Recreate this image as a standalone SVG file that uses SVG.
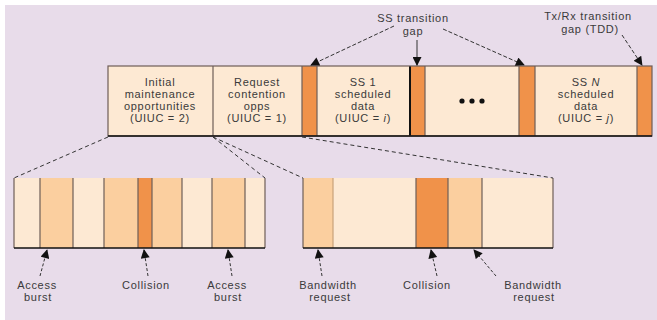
<svg xmlns="http://www.w3.org/2000/svg" width="657" height="320" viewBox="0 0 657 320">
<defs>
<style>
text{font-family:"Liberation Sans",Arial,sans-serif;font-size:11px;letter-spacing:0.7px;fill:#3a3a3a;text-anchor:middle}
.light{fill:#fde9d3}
.med{fill:#fbcf9f}
.dark{fill:#f0924a}
.sep{stroke:#6e5e58;stroke-width:1.2}
.frame{fill:none;stroke:#6e5e58;stroke-width:1.2}
.dash{stroke:#333;stroke-width:1;stroke-dasharray:4,3;fill:none}
.arr{stroke:#333;stroke-width:1;fill:none;marker-end:url(#ah)}
</style>
<marker id="ah" viewBox="0 0 10 10" refX="9" refY="5" markerWidth="10" markerHeight="9" orient="auto-start-reverse" markerUnits="userSpaceOnUse">
<path d="M0,0 L10,5 L0,10 z" fill="#111"/>
</marker>
</defs>
<rect x="0" y="0" width="657" height="320" fill="#ffffff"/>
<rect x="5" y="5" width="652" height="315" fill="#e8dcea"/>

<g id="top-bar">
<rect x="108" y="66" width="544" height="70" class="light"/>
<rect x="302" y="66" width="15" height="70" class="dark"/>
<rect x="411" y="66" width="14" height="70" class="dark"/>
<rect x="519" y="66" width="16" height="70" class="dark"/>
<rect x="637" y="66" width="15" height="70" class="dark"/>
<line x1="213" y1="66" x2="213" y2="136" class="sep"/>
<line x1="302" y1="66" x2="302" y2="136" class="sep"/>
<line x1="317" y1="66" x2="317" y2="136" class="sep"/>
<line x1="410" y1="66" x2="410" y2="136" stroke="#111" stroke-width="2"/>
<line x1="425" y1="66" x2="425" y2="136" class="sep"/>
<line x1="519" y1="66" x2="519" y2="136" class="sep"/>
<line x1="535" y1="66" x2="535" y2="136" class="sep"/>
<line x1="637" y1="66" x2="637" y2="136" class="sep"/>
<rect x="108" y="66" width="544" height="70" class="frame"/>
<line x1="108" y1="136" x2="652" y2="136" stroke="#111" stroke-width="1.4"/>
</g>

<g id="node-initial">
<text x="160" y="86">Initial</text>
<text x="160" y="98">maintenance</text>
<text x="160" y="110">opportunities</text>
<text x="160" y="122">(UIUC = 2)</text>
</g>
<g id="node-request">
<text x="257" y="86">Request</text>
<text x="257" y="98">contention</text>
<text x="257" y="110">opps</text>
<text x="257" y="122">(UIUC = 1)</text>
</g>
<g id="node-ss1">
<text x="363" y="86">SS 1</text>
<text x="363" y="98">scheduled</text>
<text x="363" y="110">data</text>
<text x="363" y="122">(UIUC = <tspan font-style="italic">i</tspan>)</text>
</g>
<g id="node-dots">
<circle cx="462" cy="101" r="2.6" fill="#111"/>
<circle cx="472" cy="101" r="2.6" fill="#111"/>
<circle cx="482" cy="101" r="2.6" fill="#111"/>
</g>
<g id="node-ssn">
<text x="586" y="86">SS <tspan font-style="italic">N</tspan></text>
<text x="586" y="98">scheduled</text>
<text x="586" y="110">data</text>
<text x="586" y="122">(UIUC = <tspan font-style="italic">j</tspan>)</text>
</g>

<g id="label-ss-gap">
<text x="413" y="22">SS transition</text>
<text x="413" y="35">gap</text>
</g>
<g id="label-txrx-gap">
<text x="588" y="20">Tx/Rx transition</text>
<text x="590" y="33">gap (TDD)</text>
</g>

<g id="bar-initial">
<rect x="14" y="178" width="26" height="70" class="light"/>
<rect x="40" y="178" width="33" height="70" class="med"/>
<rect x="73" y="178" width="31" height="70" class="light"/>
<rect x="104" y="178" width="34" height="70" class="med"/>
<rect x="138" y="178" width="14" height="70" class="dark"/>
<rect x="152" y="178" width="30" height="70" class="med"/>
<rect x="182" y="178" width="30" height="70" class="light"/>
<rect x="212" y="178" width="33" height="70" class="med"/>
<rect x="245" y="178" width="20" height="70" class="light"/>
<line x1="14" y1="178" x2="14" y2="248" class="sep"/>
<line x1="40" y1="178" x2="40" y2="248" class="sep"/>
<line x1="73" y1="178" x2="73" y2="248" class="sep"/>
<line x1="104" y1="178" x2="104" y2="248" class="sep"/>
<line x1="138" y1="178" x2="138" y2="248" class="sep"/>
<line x1="152" y1="178" x2="152" y2="248" class="sep"/>
<line x1="182" y1="178" x2="182" y2="248" class="sep"/>
<line x1="212" y1="178" x2="212" y2="248" class="sep"/>
<line x1="245" y1="178" x2="245" y2="248" class="sep"/>
<line x1="265" y1="178" x2="265" y2="248" class="sep"/>
<line x1="14" y1="248" x2="265" y2="248" stroke="#111" stroke-width="1.4"/>
</g>

<g id="bar-request">
<rect x="303" y="178" width="30" height="70" class="med"/>
<rect x="333" y="178" width="83" height="70" class="light"/>
<rect x="416" y="178" width="32" height="70" class="dark"/>
<rect x="448" y="178" width="34" height="70" class="med"/>
<rect x="482" y="178" width="71" height="70" class="light"/>
<line x1="303" y1="178" x2="303" y2="248" class="sep"/>
<line x1="333" y1="178" x2="333" y2="248" stroke="#c9a27a" stroke-width="1.2"/>
<line x1="416" y1="178" x2="416" y2="248" class="sep"/>
<line x1="448" y1="178" x2="448" y2="248" class="sep"/>
<line x1="482" y1="178" x2="482" y2="248" class="sep"/>
<line x1="553" y1="178" x2="553" y2="248" class="sep"/>
<line x1="303" y1="248" x2="553" y2="248" stroke="#111" stroke-width="1.4"/>
</g>

<g id="label-access1">
<text x="37" y="289">Access</text>
<text x="38" y="301">burst</text>
</g>
<g id="label-collision1">
<text x="146" y="289">Collision</text>
</g>
<g id="label-access2">
<text x="227" y="289">Access</text>
<text x="228" y="301">burst</text>
</g>
<g id="label-bw1">
<text x="328" y="289">Bandwidth</text>
<text x="330" y="301">request</text>
</g>
<g id="label-collision2">
<text x="427" y="289">Collision</text>
</g>
<g id="label-bw2">
<text x="533" y="289">Bandwidth</text>
<text x="534" y="301">request</text>
</g>

<g id="connectors">
<line x1="108" y1="137" x2="14" y2="178" class="dash"/>
<line x1="213" y1="137" x2="265" y2="178" class="dash"/>
<line x1="213" y1="137" x2="303" y2="178" class="dash"/>
<line x1="302" y1="137" x2="553" y2="178" class="dash"/>
<path d="M394,26 L311,65" class="arr" stroke-dasharray="4,2"/>
<path d="M417,40 L417,65" class="arr"/>
<path d="M443,29 L524,65" class="arr" stroke-dasharray="4,2"/>
<path d="M622,35 L642,65" class="arr" stroke-dasharray="4,2"/>
<path d="M40,276 L47,250" class="arr" stroke-dasharray="3,2"/>
<path d="M148,276 L144,250" class="arr" stroke-dasharray="3,2"/>
<path d="M232,276 L228,250" class="arr" stroke-dasharray="3,2"/>
<path d="M322,276 L318,250" class="arr" stroke-dasharray="3,2"/>
<path d="M437,276 L431,250" class="arr" stroke-dasharray="3,2"/>
<path d="M496,276 L474,250" class="arr" stroke-dasharray="3,2"/>
</g>
</svg>
